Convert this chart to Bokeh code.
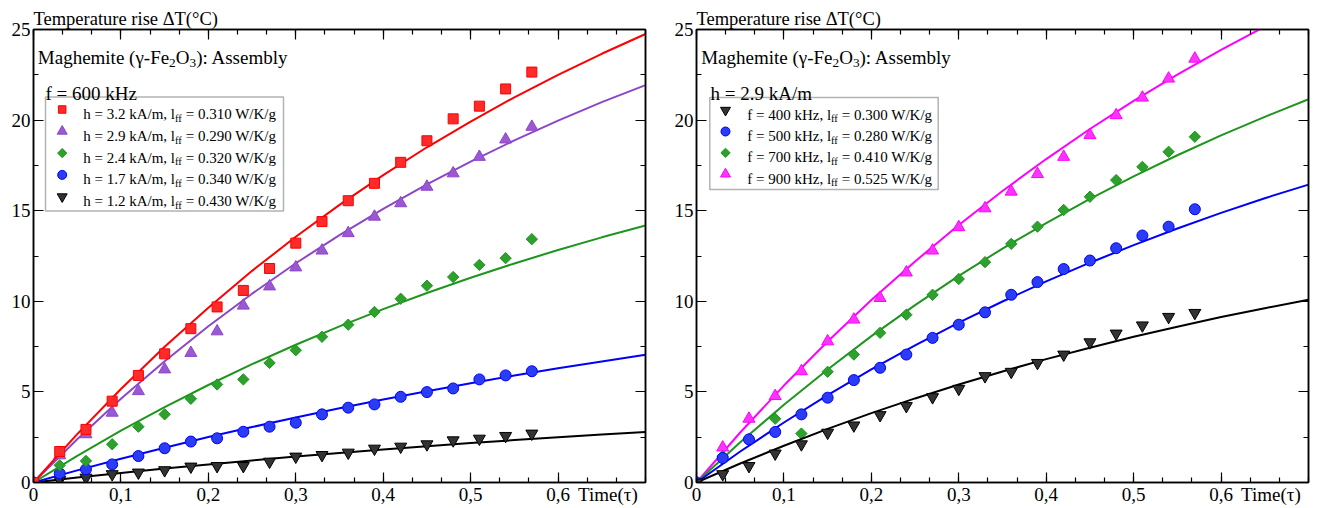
import math
from bokeh.plotting import figure
from bokeh.layouts import row
from bokeh.models import Label, BoxAnnotation, FixedTicker, Range1d, LinearAxis
from bokeh.embed import file_html
from bokeh.resources import INLINE

# ---------------- data ----------------
TIME = [0.00, 0.03, 0.06, 0.09, 0.12, 0.15, 0.18, 0.21, 0.24, 0.27,
        0.30, 0.33, 0.36, 0.39, 0.42, 0.45, 0.48, 0.51, 0.54, 0.57]
TIME_FIT = [0.00, 0.05, 0.10, 0.15, 0.20, 0.25, 0.30, 0.35, 0.40, 0.45,
            0.50, 0.55, 0.60, 0.65, 0.70]

# left panel: f = 600 kHz
L_H = ["3.2", "2.9", "2.4", "1.7", "1.2"]
L_LFF = ["0.310", "0.290", "0.320", "0.340", "0.430"]
L_RED = [0, 1.71, 2.93, 4.49, 5.91, 7.10, 8.49, 9.69, 10.60, 11.81,
         13.21, 14.40, 15.55, 16.51, 17.67, 18.86, 20.07, 20.77, 21.72, 22.65]
L_PURPLE = [0, 1.50, 2.66, 3.85, 5.04, 6.24, 7.15, 8.34, 9.76, 10.82,
            11.87, 12.80, 13.76, 14.67, 15.41, 16.32, 17.06, 17.97, 18.93, 19.63]
L_GREEN = [0, 0.95, 1.19, 2.11, 3.08, 3.76, 4.62, 5.41, 5.69, 6.60,
           7.30, 8.04, 8.71, 9.41, 10.14, 10.86, 11.34, 12.01, 12.38, 13.43]
L_BLUE = [0, 0.50, 0.73, 1.00, 1.46, 1.89, 2.26, 2.44, 2.80, 3.08,
          3.30, 3.76, 4.13, 4.31, 4.73, 4.99, 5.19, 5.69, 5.91, 6.14]
L_BLACK = [0, 0.14, 0.27, 0.46, 0.55, 0.68, 0.88, 0.91, 0.91, 1.15,
           1.43, 1.52, 1.65, 1.87, 1.98, 2.11, 2.33, 2.42, 2.57, 2.70]
L_RED_FIT = [0, 2.67, 5.16, 7.49, 9.65, 11.68, 13.56, 15.32, 16.96, 18.50,
             19.92, 21.26, 22.50, 23.66, 24.75]
L_PURPLE_FIT = [0, 2.39, 4.62, 6.69, 8.62, 10.42, 12.10, 13.65, 15.10, 16.45,
                17.71, 18.88, 19.97, 20.99, 21.93]
L_GREEN_FIT = [0, 1.47, 2.86, 4.16, 5.38, 6.53, 7.60, 8.62, 9.57, 10.46,
               11.30, 12.09, 12.83, 13.53, 14.18]
L_BLUE_FIT = [0, 0.67, 1.31, 1.92, 2.51, 3.06, 3.59, 4.10, 4.58, 5.04,
              5.48, 5.90, 6.30, 6.68, 7.05]
L_BLACK_FIT = [0, 0.27, 0.52, 0.77, 1.00, 1.22, 1.43, 1.63, 1.82, 2.00,
               2.18, 2.34, 2.50, 2.65, 2.79]

# right panel: h = 2.9 kA/m
R_F = ["400", "500", "700", "900"]
R_LFF = ["0.300", "0.280", "0.410", "0.525"]
R_BLACK = [0, 0.46, 0.91, 1.60, 2.11, 2.75, 3.15, 3.72, 4.22, 4.71,
           5.17, 5.87, 6.11, 6.60, 7.06, 7.74, 8.22, 8.67, 9.14, 9.36]
R_BLUE = [0, 1.35, 2.38, 2.79, 3.76, 4.68, 5.65, 6.33, 7.06, 7.98,
          8.71, 9.39, 10.36, 11.06, 11.78, 12.25, 12.93, 13.63, 14.12, 15.08]
R_GREEN = [0, 1.45, 2.38, 3.52, 2.70, 6.11, 7.06, 8.26, 9.26, 10.36,
           11.23, 12.16, 13.17, 14.12, 15.04, 15.77, 16.69, 17.42, 18.25, 19.08]
R_MAGENTA = [0, 1.93, 3.52, 4.77, 6.14, 7.79, 8.99, 10.18, 11.59, 12.80,
             14.09, 15.13, 16.05, 17.02, 17.97, 19.17, 20.27, 21.24, 22.29, 23.39]
R_BLACK_FIT = [0, 1.05, 2.03, 2.96, 3.83, 4.64, 5.41, 6.13, 6.81, 7.44,
               8.04, 8.60, 9.13, 9.62, 10.09]
R_BLUE_FIT = [0, 1.71, 3.31, 4.82, 6.24, 7.57, 8.82, 9.99, 11.10, 12.13,
              13.10, 14.02, 14.88, 15.69, 16.44]
R_GREEN_FIT = [0, 2.22, 4.29, 6.24, 8.08, 9.79, 11.40, 12.91, 14.32, 15.65,
               16.89, 18.06, 19.16, 20.18, 21.15]
R_MAGENTA_FIT = [0, 2.76, 5.35, 7.78, 10.07, 12.20, 14.21, 16.09, 17.85, 19.51,
                 21.06, 22.51, 23.88, 25.16, 26.36]

X_TICKS = [0.0, 0.1, 0.2, 0.3, 0.4, 0.5, 0.6]
X_TICK_LABELS = ["0", "0,1", "0,2", "0,3", "0,4", "0,5", "0,6"]
X_MINOR = [i / 30 for i in range(22)]
Y_TICKS = [0, 5, 10, 15, 20, 25]
Y_TICK_LABELS = ["0", "5", "10", "15", "20", "25"]
Y_MINOR = [i * 2.5 for i in range(11)]
X_TITLE = "Time(τ)"
Y_TITLE = "Temperature rise ΔT(°C)"

# ---------------- style ----------------
FONT = "Liberation Serif"
FW, FH = 612, 453
XMAX, YMAX = 0.7, 25
X_TITLE_AT = 0.657

RED, RED_F = "#ff0000", "#ff2a2a"
PURPLE, PURPLE_F = "#8c46c8", "#9a58d2"
GREEN, GREEN_F = "#1e961e", "#2ea02e"
BLUE, BLUE_F = "#0000ff", "#2a3cf4"
BLACK, BLACK_F = "#000000", "#333333"
MAGENTA, MAGENTA_F = "#ff00ff", "#ff33ff"

# Times / Liberation Serif advance widths (per 1000 em)
W = {' ': 250, '=': 564, '.': 250, ',': 250, 'h': 500, 'k': 500, 'A': 722,
     '/': 278, 'm': 778, 'l': 278, 'f': 333, 'W': 944, 'K': 722, 'g': 500,
     'H': 722, 'z': 444, 'M': 889, 'a': 444, 'e': 444, 'i': 278, 't': 278,
     '(': 333, ')': 333, 'γ': 440, '-': 333, 'F': 556, 'O': 722, ':': 278,
     's': 389, 'b': 500, 'y': 500, 'T': 611}


def tw(s, fs):
    return sum(W.get(c, 500) for c in s) * fs / 1000.0


def rich(p, x, y, parts, fs):
    cx = x
    for txt, kind in parts:
        size = fs if kind == "n" else fs * 0.7
        dy = 0 if kind == "n" else -fs * 0.28
        lead = len(txt) - len(txt.lstrip(" "))
        cx += tw(" " * lead, size)
        txt = txt.lstrip(" ")
        p.add_layout(Label(x=cx, y=y + dy, x_units="screen", y_units="screen",
                           text=txt, text_font=FONT, text_font_size=f"{size:.1f}px",
                           text_baseline="alphabetic", text_align="left",
                           text_color="black"))
        cx += tw(txt, size)


def style_axis(ax, ticks, minor, labels, show_labels, show_ticks=True):
    ax.ticker = FixedTicker(ticks=ticks, minor_ticks=minor)
    ax.major_tick_in = 10 if show_ticks else 0
    ax.major_tick_out = 0
    ax.minor_tick_in = 5 if show_ticks else 0
    ax.minor_tick_out = 0
    ax.axis_line_width = 1.5
    ax.axis_line_color = "black" if show_ticks else None
    ax.major_tick_line_width = 1.2
    ax.minor_tick_line_width = 1.2
    ax.major_tick_line_color = "black" if show_ticks else None
    ax.minor_tick_line_color = "black" if show_ticks else None
    ax.major_label_text_font = FONT
    ax.major_label_text_color = "black"
    if show_labels:
        ax.major_label_text_font_size = "19px"
        ax.major_label_standoff = 1
        ax.major_label_overrides = {t: l for t, l in zip(ticks, labels)}
    else:
        ax.major_label_text_font_size = "0px"
        ax.major_label_standoff = 0
        ax.major_label_overrides = {t: "" for t in ticks}


def make_panel(border_left, border_right, series, header_x, legend_title, legend_geo, entries):
    p = figure(frame_width=FW, frame_height=FH,
               x_range=Range1d(0, XMAX), y_range=Range1d(0, YMAX),
               output_backend="svg", toolbar_location=None,
               min_border_left=border_left, min_border_right=border_right,
               min_border_top=29, min_border_bottom=0,
               background_fill_color="white", border_fill_color="white")
    p.grid.visible = False
    p.outline_line_color = "black"
    p.outline_line_width = 1.5

    # title (y-axis caption, placed above the frame as in the reference)
    p.title.text = Y_TITLE
    p.title.align = "left"
    p.title.text_font = FONT
    p.title.text_font_size = "18.5px"
    p.title.text_font_style = "normal"
    p.title.text_color = "black"
    p.title.standoff = 2

    # bottom: tick axis next to the frame, then a label axis carrying the caption
    style_axis(p.xaxis[0], X_TICKS, X_MINOR, X_TICK_LABELS, False)
    lab_ax = LinearAxis()
    style_axis(lab_ax, X_TICKS + [X_TITLE_AT], [], X_TICK_LABELS + [X_TITLE], True, False)
    p.add_layout(lab_ax, "below")

    style_axis(p.yaxis[0], Y_TICKS, Y_MINOR, Y_TICK_LABELS, True)
    p.yaxis[0].major_label_standoff = 3
    top_ax = LinearAxis()
    style_axis(top_ax, X_TICKS, X_MINOR, X_TICK_LABELS, False)
    p.add_layout(top_ax, "above")
    right_ax = LinearAxis()
    style_axis(right_ax, Y_TICKS, Y_MINOR, Y_TICK_LABELS, False)
    p.add_layout(right_ax, "right")

    # series (drawn last-to-first so first legend entry is on top)
    for marker, col, fcol, size, ang, ys, fit in reversed(series):
        p.line(TIME_FIT, fit, line_color=col, line_width=2)
        p.scatter(TIME, ys, marker=marker, size=size, angle=ang,
                  fill_color=fcol, line_color=col, line_width=1)

    # header texts
    rich(p, header_x, FH - 28, [("Maghemite (γ-Fe", "n"), ("2", "s"), ("O", "n"),
                                ("3", "s"), ("): Assembly", "n")], 19)
    p.add_layout(Label(x=legend_title[0], y=FH - 64, x_units="screen", y_units="screen",
                       text=legend_title[1], text_font=FONT, text_font_size="19px",
                       text_baseline="alphabetic", text_align="left", text_color="black"))

    # legend
    x0, x1, top, bottom, row0, dy, mx, txx = legend_geo
    p.add_layout(BoxAnnotation(left=x0, right=x1, top=FH - top, bottom=FH - bottom,
                               left_units="screen", right_units="screen",
                               top_units="screen", bottom_units="screen",
                               fill_color="white", fill_alpha=1.0,
                               line_color="black", line_width=1.5, level="underlay"))
    for i, (marker, col, fcol, size, ang, parts) in enumerate(entries):
        cy = row0 + dy * i
        p.scatter([mx / FW * XMAX], [(FH - cy) / FH * YMAX], marker=marker,
                  size=size, angle=ang, fill_color=fcol, line_color=col, line_width=1)
        rich(p, txx, FH - cy - 4.5, parts, 15)
    return p


DIAM = math.pi / 4

left_series = [
    ("square", RED, RED_F, 10, 0, L_RED, L_RED_FIT),
    ("triangle", PURPLE, PURPLE_F, 12, 0, L_PURPLE, L_PURPLE_FIT),
    ("square", GREEN, GREEN_F, 8, DIAM, L_GREEN, L_GREEN_FIT),
    ("circle", BLUE, BLUE_F, 11, 0, L_BLUE, L_BLUE_FIT),
    ("inverted_triangle", BLACK, BLACK_F, 12, 0, L_BLACK, L_BLACK_FIT),
]
left_legend_marks = [("square", RED, RED_F, 7.5, 0), ("triangle", PURPLE, PURPLE_F, 10, 0),
                     ("square", GREEN, GREEN_F, 6.5, DIAM), ("circle", BLUE, BLUE_F, 9, 0),
                     ("inverted_triangle", BLACK, BLACK_F, 10, 0)]
left_entries = [m + ([(f"h = {h} kA/m, l", "n"), ("ff", "s"), (f" = {v} W/K/g", "n")],)
                for m, h, v in zip(left_legend_marks, L_H, L_LFF)]

right_series = [
    ("inverted_triangle", BLACK, BLACK_F, 12, 0, R_BLACK, R_BLACK_FIT),
    ("circle", BLUE, BLUE_F, 11, 0, R_BLUE, R_BLUE_FIT),
    ("square", GREEN, GREEN_F, 8, DIAM, R_GREEN, R_GREEN_FIT),
    ("triangle", MAGENTA, MAGENTA_F, 12, 0, R_MAGENTA, R_MAGENTA_FIT),
]
right_legend_marks = [("inverted_triangle", BLACK, BLACK_F, 10, 0), ("circle", BLUE, BLUE_F, 9, 0),
                      ("square", GREEN, GREEN_F, 6.5, DIAM), ("triangle", MAGENTA, MAGENTA_F, 10, 0)]
right_entries = [m + ([(f"f = {f} kHz, l", "n"), ("ff", "s"), (f" = {v} W/K/g", "n")],)
                 for m, f, v in zip(right_legend_marks, R_F, R_LFF)]

p1 = make_panel(33, 13, left_series, 4.3, (12, "f = 600 kHz"),
                (12, 250, 67.4, 181.4, 80.0, 21.8, 28.7, 49.7), left_entries)
p2 = make_panel(38, 8, right_series, 4.7, (14, "h = 2.9 kA/m"),
                (13.3, 241.7, 68.0, 160.0, 80.7, 21.3, 29.0, 50.7), right_entries)

layout = row(p1, p2)
open("out.html", "w").write(file_html(layout, INLINE))
